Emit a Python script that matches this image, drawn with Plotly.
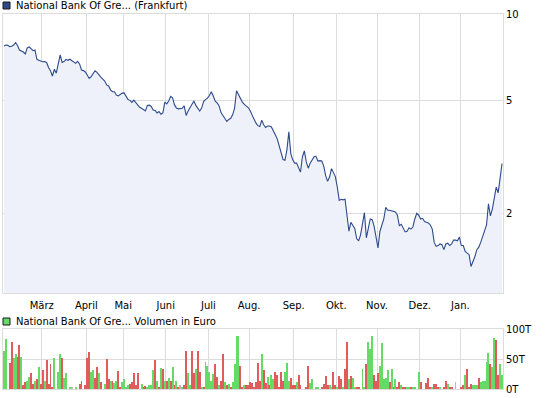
import pandas as pd
import plotly.graph_objects as go

# ---------------- data ----------------
holidays = ["2011-04-22", "2011-04-25", "2011-12-26"]
trading_days = [d for d in pd.bdate_range("2011-02-01", "2012-01-31")
                if d.strftime("%Y-%m-%d") not in holidays]

month_labels = ["März", "April", "Mai", "Juni", "Juli", "Aug.", "Sep.",
                "Okt.", "Nov.", "Dez.", "Jan."]

price = [
    7.73, 7.79, 7.77, 7.69, 7.71, 7.79, 7.94, 7.76, 7.48, 7.43,
    7.36, 7.25, 7.61, 7.67, 7.53, 7.44, 7.48, 6.94, 6.89, 6.85,
    6.81, 6.82, 6.77, 6.50, 6.33, 6.07, 6.41, 6.21, 6.69, 7.19,
    6.77, 6.82, 6.94, 6.89, 6.95, 6.86, 6.80, 6.72, 6.83, 6.69,
    6.37, 6.34, 6.27, 6.10, 5.95, 6.04, 6.22, 6.33, 6.25, 6.10,
    6.02, 5.92, 5.83, 5.65, 5.60, 5.43, 5.35, 5.35, 5.21, 5.17,
    5.23, 5.29, 5.30, 5.13, 5.02, 4.99, 4.91, 5.00, 4.91, 4.79,
    4.72, 4.68, 4.63, 4.58, 4.79, 4.80, 4.75, 4.62, 4.60, 4.51,
    4.56, 4.46, 4.51, 4.92, 4.85, 4.96, 5.15, 5.09, 4.81, 4.69,
    4.66, 4.67, 4.68, 4.77, 4.42, 4.58, 4.72, 4.83, 4.96, 4.79,
    4.69, 4.58, 4.69, 4.94, 5.02, 5.08, 5.19, 5.35, 5.17, 4.96,
    4.89, 4.77, 4.52, 4.40, 4.28, 4.21, 4.28, 4.32, 4.44, 4.69,
    5.39, 5.21, 5.02, 4.92, 4.83, 4.77, 4.71, 4.60, 4.47, 4.29,
    4.16, 4.07, 4.04, 4.25, 4.10, 4.01, 4.06, 4.06, 4.03, 3.88,
    3.78, 3.66, 3.44, 3.30, 3.10, 3.08, 3.35, 3.87, 3.25, 3.09,
    3.01, 3.01, 2.92, 2.80, 3.17, 3.32, 3.04, 2.89, 3.01, 3.09,
    3.17, 3.18, 3.06, 3.07, 3.06, 2.94, 2.72, 2.60, 2.69, 2.88,
    2.78, 2.70, 2.48, 2.23, 2.25, 2.24, 2.25, 1.99, 1.74, 1.87,
    1.82, 1.78, 1.64, 1.61, 1.69, 1.86, 2.02, 1.65, 1.78, 1.92,
    1.91, 1.81, 1.66, 1.52, 1.74, 1.85, 1.92, 2.11, 2.06, 2.06,
    2.05, 2.03, 2.03, 1.98, 1.82, 1.84, 1.79, 1.73, 1.74, 1.79,
    1.77, 1.80, 1.92, 2.01, 1.98, 1.92, 1.93, 1.88, 1.87, 1.86,
    1.83, 1.77, 1.59, 1.54, 1.55, 1.57, 1.56, 1.50, 1.57, 1.58,
    1.55, 1.57, 1.62, 1.62, 1.61, 1.66, 1.55, 1.55, 1.48, 1.46,
    1.44, 1.31, 1.36, 1.42, 1.50, 1.53, 1.59, 1.67, 1.76, 1.83,
    2.17, 1.97, 2.08, 2.29, 2.48, 2.37, 2.71, 3.00,
]

volume_t = [
    64, 84, 0, 43, 78, 52, 59, 54, 74, 54,
    7, 11, 14, 20, 26, 9, 13, 16, 37, 9,
    31, 13, 48, 9, 42, 4, 51, 0, 29, 59,
    51, 19, 26, 0, 2, 3, 0, 2, 0, 9,
    14, 0, 6, 51, 61, 28, 32, 19, 37, 27,
    12, 0, 9, 50, 17, 13, 14, 10, 14, 30,
    3, 11, 16, 4, 7, 9, 11, 26, 6, 26,
    0, 9, 3, 5, 3, 6, 6, 31, 49, 14,
    4, 35, 34, 13, 14, 19, 13, 37, 7, 14,
    4, 7, 3, 7, 63, 27, 6, 64, 27, 33,
    64, 28, 3, 4, 45, 39, 29, 14, 25, 42,
    20, 7, 13, 58, 11, 7, 8, 4, 11, 41,
    89, 89, 38, 3, 6, 7, 6, 11, 10, 4,
    11, 43, 13, 59, 31, 10, 20, 7, 23, 16,
    28, 24, 2, 28, 14, 28, 44, 13, 19, 6,
    7, 11, 23, 6, 0, 0, 3, 38, 10, 16,
    0, 4, 3, 0, 3, 9, 21, 6, 6, 3,
    29, 6, 4, 21, 17, 4, 34, 79, 17, 22,
    19, 3, 4, 4, 0, 34, 4, 41, 79, 66,
    89, 24, 13, 27, 38, 77, 16, 19, 31, 11,
    34, 4, 16, 4, 11, 6, 3, 4, 3, 4,
    4, 3, 3, 0, 29, 11, 0, 0, 10, 19,
    3, 3, 9, 9, 3, 2, 0, 3, 13, 8,
    3, 2, 0, 11, 0, 0, 3, 6, 24, 34,
    3, 9, 6, 6, 6, 19, 11, 14, 14, 45,
    60, 42, 37, 85, 81, 24, 41, 23,
]

# g = up day, r = down day, n = unchanged
direction = (
    "gggrrggrrg" "rrggrrgrgr" "rgrrrrgggg" "rggggngggr" "rrrrrggrrg"
    "rrgrrgrggr" "rggggrrrrr" "rgrrggggrg" "rgrgrgrgrg" "rngrrggrrg"
    "rrgrgggggr" "rgrrgrgrgg" "ggrrgrrrrr" "rrrgrrgrgg" "rrrrrgggrr"
    "rgrrrrrrgg" "gggrrrrrgg" "rrgrrgrrgr" "ggrrrggrgg" "grrrgggggr"
    "grgrrgrrgg" "rggggrrrrr" "rgrrrgrrrg" "rrrnrrrrgr" "rrgggrgggg"
    "grggrrgg"
)

volume_ticks = [0, 50, 100]
volume_ticktext = ["0T", "50T", "100T"]
price_ticks = [2, 5, 10]

# ---------------- build ----------------
n = min(len(trading_days), len(price), len(volume_t), len(direction))
days = trading_days[:n]
x = [d + pd.Timedelta(hours=12) for d in days]

month_starts = []
seen = set()
for d in days:
    key = (d.year, d.month)
    if key not in seen:
        seen.add(key)
        month_starts.append(d)
month_starts = month_starts[1:]  # first label is March

color_map = {"g": "#66d966", "r": "#e05c5c", "n": "#b8b8b8"}
bar_colors = [color_map[c] for c in direction[:n]]

W, H = 545, 398
x0, x1 = 3, 503
py_top, py_bot = 14, 293
vy_top, vy_bot = 329, 389

grid = "#dcdcdc"
font = dict(family="DejaVu Sans, Verdana, sans-serif", size=10, color="#000000")
tfont = dict(family="DejaVu Sans, Verdana, sans-serif", size=10, color="#000000")

fig = go.Figure()
fig.add_trace(go.Scatter(
    x=x, y=price[:n], mode="lines",
    line=dict(color="#2c4a8c", width=1.1),
    fill="tozeroy", fillcolor="#eef1fa",
    xaxis="x", yaxis="y", hoverinfo="skip", showlegend=False,
))
fig.add_trace(go.Bar(
    x=x, y=volume_t[:n], marker=dict(color=bar_colors, line=dict(width=0)),
    width=0.5 * 86400000,
    xaxis="x2", yaxis="y2", hoverinfo="skip", showlegend=False,
))

x_range = [days[0], days[-1] + pd.Timedelta(days=1)]
rb = [dict(bounds=["sat", "mon"]), dict(values=holidays)]

common_x = dict(
    type="date", range=x_range, rangebreaks=rb,
    domain=[x0 / W, x1 / W],
    tickmode="array", tickvals=month_starts,
    showgrid=True, gridcolor=grid, gridwidth=1,
    showline=True, mirror=True, linecolor=grid, linewidth=1,
    ticks="", zeroline=False, fixedrange=True, automargin=False,
)

fig.update_layout(
    template="none",
    width=W, height=H, autosize=False,
    margin=dict(l=0, r=0, t=0, b=0, pad=0),
    paper_bgcolor="white", plot_bgcolor="white",
    font=font,
    bargap=0,
    xaxis=dict(common_x, anchor="y", ticktext=month_labels,
               showticklabels=True, tickfont=tfont, ticklabelstandoff=3),
    xaxis2=dict(common_x, anchor="y2", ticktext=month_labels,
                showticklabels=False, matches="x"),
    yaxis=dict(
        type="log", domain=[1 - py_bot / H, 1 - py_top / H],
        range=[0.0245, 1.0], side="right", anchor="x",
        tickmode="array", tickvals=price_ticks,
        ticktext=[str(v) for v in price_ticks],
        showgrid=True, gridcolor=grid, showline=True, mirror=True,
        linecolor=grid, ticks="", zeroline=False, fixedrange=True,
        automargin=False, tickfont=tfont,
    ),
    yaxis2=dict(
        domain=[1 - vy_bot / H, 1 - vy_top / H],
        range=[0, 100], side="right", anchor="x2",
        tickmode="array", tickvals=volume_ticks, ticktext=volume_ticktext,
        showgrid=True, gridcolor=grid, showline=True, mirror=True,
        linecolor=grid, ticks="", zeroline=False, fixedrange=True,
        automargin=False, tickfont=tfont,
    ),
)

# legend-like headers
fig.add_shape(type="rect", xref="paper", yref="paper",
              x0=3 / W, x1=10 / W, y0=1 - 9 / H, y1=1 - 2 / H,
              fillcolor="#2e4a86", line=dict(color="#1a1a1a", width=1))
fig.add_annotation(xref="paper", yref="paper", x=14 / W, y=1 - 6 / H,
                   text="National Bank Of Gre... (Frankfurt)",
                   showarrow=False, xanchor="left", yanchor="middle", font=font)
fig.add_shape(type="rect", xref="paper", yref="paper",
              x0=3 / W, x1=10 / W, y0=1 - 325 / H, y1=1 - 318 / H,
              fillcolor="#66d966", line=dict(color="#1a1a1a", width=1))
fig.add_annotation(xref="paper", yref="paper", x=14 / W, y=1 - 321.5 / H,
                   text="National Bank Of Gre... Volumen in Euro",
                   showarrow=False, xanchor="left", yanchor="middle", font=font)

fig.write_html(
    "out.html",
    config={"displayModeBar": False},
    post_script="document.body.style.margin='0';document.body.style.padding='0';"
                "document.body.style.overflow='hidden';",
)
